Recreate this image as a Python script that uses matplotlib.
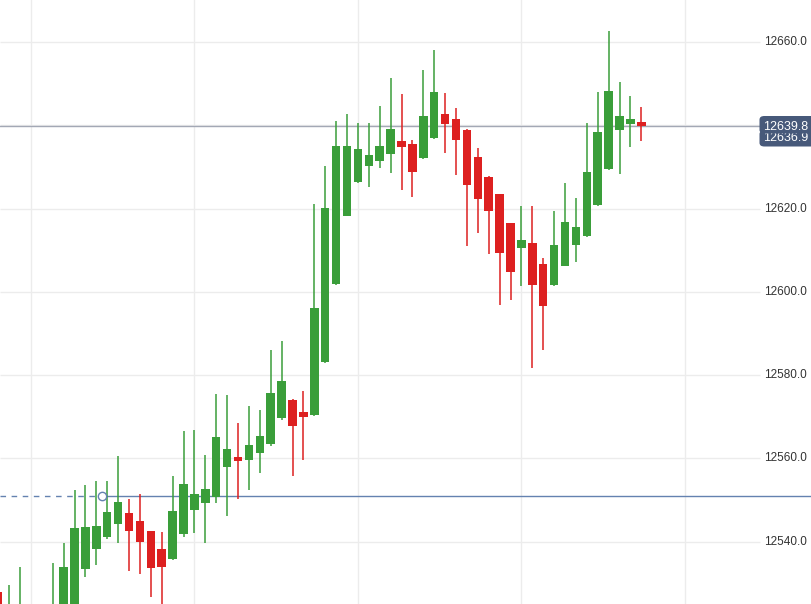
import numpy as np
import matplotlib.pyplot as plt
from matplotlib.patches import FancyBboxPatch

# candle data (oldest -> newest)
opens = [12527.9, 12516.0, 12519.0, 12522.0, 12518.0, 12520.0, 12522.5, 12524.0, 12533.5, 12538.3,
         12541.0, 12544.1, 12546.9, 12544.9, 12542.5, 12538.2, 12535.9, 12541.7, 12547.7, 12549.3,
         12550.8, 12558.0, 12560.4, 12559.6, 12561.3, 12563.4, 12569.6, 12574.0, 12571.2, 12570.4,
         12583.2, 12601.8, 12618.3, 12626.4, 12630.3, 12631.4, 12633.2, 12636.2, 12635.5, 12632.2,
         12637.0, 12642.7, 12641.5, 12638.9, 12632.4, 12627.6, 12623.5, 12616.5, 12610.5, 12611.8,
         12606.7, 12601.6, 12606.3, 12611.2, 12613.4, 12620.8, 12629.5, 12638.9, 12640.3, 12640.9]
highs = [12529.0, 12529.6, 12533.8, 12524.0, 12523.5, 12534.9, 12539.6, 12552.5, 12553.5, 12554.5,
         12554.5, 12560.6, 12550.2, 12551.4, 12542.6, 12542.2, 12555.7, 12566.6, 12566.8, 12560.8,
         12575.4, 12575.2, 12568.6, 12572.6, 12571.6, 12586.0, 12588.2, 12574.2, 12576.2, 12621.1,
         12630.2, 12641.0, 12642.7, 12640.5, 12640.5, 12644.6, 12651.3, 12647.5, 12636.5, 12653.3,
         12658.1, 12647.8, 12644.1, 12639.0, 12634.6, 12627.7, 12623.6, 12616.6, 12620.7, 12620.6,
         12608.2, 12619.5, 12626.2, 12622.6, 12640.5, 12648.1, 12662.6, 12650.3, 12647.0, 12644.5]
lows = [12517.0, 12514.0, 12517.5, 12516.0, 12515.5, 12518.5, 12521.0, 12522.5, 12531.5, 12534.4,
        12540.5, 12539.7, 12533.0, 12532.1, 12526.6, 12524.0, 12535.5, 12541.2, 12542.1, 12539.7,
        12549.3, 12546.2, 12550.2, 12552.5, 12556.5, 12563.0, 12569.3, 12555.8, 12559.6, 12570.2,
        12583.0, 12601.6, 12618.1, 12626.2, 12625.1, 12629.8, 12628.6, 12624.4, 12622.7, 12632.0,
        12636.8, 12633.4, 12628.1, 12611.1, 12614.2, 12609.2, 12596.8, 12598.0, 12601.5, 12581.6,
        12586.0, 12601.4, 12606.1, 12607.2, 12613.2, 12620.6, 12629.3, 12628.3, 12634.7, 12636.3]
closes = [12519.5, 12522.5, 12524.0, 12519.0, 12521.5, 12523.5, 12533.8, 12543.3, 12543.6, 12543.7,
          12547.1, 12549.5, 12542.6, 12540.0, 12533.7, 12533.9, 12547.3, 12553.8, 12551.4, 12552.7,
          12565.1, 12562.2, 12559.4, 12563.2, 12565.4, 12575.6, 12578.6, 12567.8, 12570.0, 12596.2,
          12620.2, 12635.1, 12635.1, 12634.3, 12632.9, 12635.0, 12639.1, 12634.9, 12628.8, 12642.2,
          12648.0, 12640.4, 12636.4, 12625.7, 12622.4, 12619.5, 12609.4, 12604.8, 12612.4, 12601.6,
          12596.7, 12611.2, 12616.8, 12615.6, 12628.9, 12638.5, 12648.3, 12642.2, 12641.4, 12639.8]

price_labels = ["12660.0", "12620.0", "12600.0", "12580.0", "12560.0", "12540.0"]
price_levels = [12660, 12620, 12600, 12580, 12560, 12540]
grid_levels = [12540, 12560, 12580, 12600, 12620, 12640, 12660]
vgrid_idx = [3, 18, 33, 48, 63]

last_price = 12639.8
bid_price = 12636.9
hline_price = 12550.95
hline_anchor = 9.5

green = "#3a9e3a"
red = "#dd2020"
tag = "#47597a"

fig = plt.figure(figsize=(8.12, 6.04), dpi=100)
ax = fig.add_axes([0, 0, 1, 1])
ax.set_xlim(0.165, 74.66)
ax.set_ylim(12525.0, 12670.1)
ax.axis("off")

# grid
ax.hlines(grid_levels, 0.165, 69.9, color="#ececec", lw=1, zorder=0)
for gx in vgrid_idx:
    ax.axvline(gx, color="#ececec", lw=1, zorder=0)

# candles
x = np.arange(len(opens))
o = np.array(opens)
c = np.array(closes)
cols = [green if cc >= oo else red for oo, cc in zip(o, c)]
ax.vlines(x, lows, highs, colors=cols, lw=1.1, zorder=2)
ax.bar(x, np.maximum(np.abs(c - o), 0.6), bottom=np.minimum(o, c),
       width=0.78, color=cols, zorder=3)

# horizontal lines
ax.axhline(last_price, color="#a3a8b5", lw=1, zorder=1)
ax.plot([0.165, hline_anchor], [hline_price, hline_price], color="#6482b0",
        lw=1, ls=(0, (4, 4)), zorder=1)
ax.plot([hline_anchor, 74.66], [hline_price, hline_price], color="#6482b0", lw=1, zorder=1)
ax.plot([hline_anchor], [hline_price], "o", ms=6, mfc="white", mec="#6482b0", mew=1, zorder=4)

# price axis labels
for lvl, lab in zip(price_levels, price_labels):
    ax.text(74.2, lvl, lab, ha="right", va="center", fontsize=8.5,
            family="Liberation Sans", color="#333333")

# price tags: the bid tag sits under the last price tag
box2 = FancyBboxPatch((759.5 / 812, 1 - 146.5 / 604), 60 / 812, 16 / 604,
                      boxstyle="round,pad=0,rounding_size=0.006",
                      transform=ax.transAxes, fc=tag, ec="none", zorder=5)
ax.add_patch(box2)
ax.text(808 / 812, 1 - 141 / 604, "%.1f" % bid_price, transform=ax.transAxes,
        ha="right", va="baseline", fontsize=9, family="Liberation Sans",
        color="white", zorder=6)
box1 = FancyBboxPatch((759.5 / 812, 1 - 133.5 / 604), 60 / 812, 17.5 / 604,
                      boxstyle="round,pad=0,rounding_size=0.006",
                      transform=ax.transAxes, fc=tag, ec="none", zorder=7)
ax.add_patch(box1)
ax.text(808 / 812, 1 - 130 / 604, "%.1f" % last_price, transform=ax.transAxes,
        ha="right", va="baseline", fontsize=9, family="Liberation Sans",
        color="white", zorder=8)

fig.savefig("out.png", dpi=100)
